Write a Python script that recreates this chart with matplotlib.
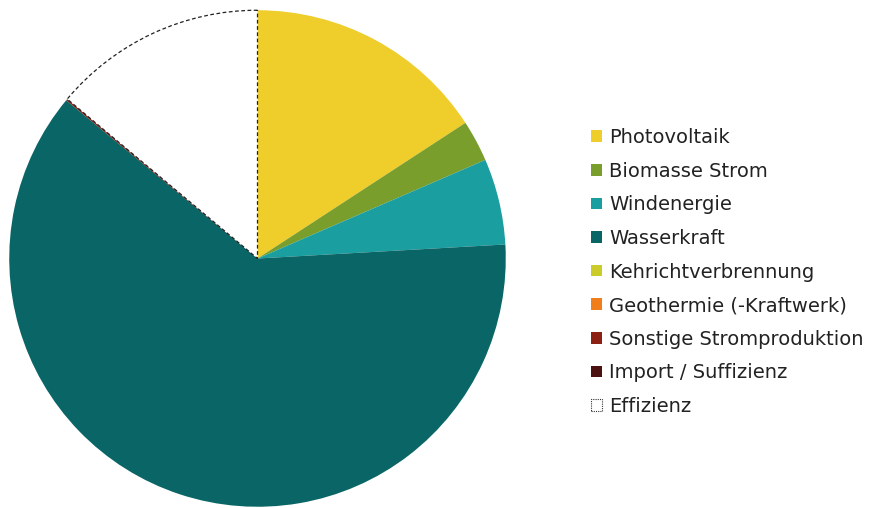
import matplotlib.pyplot as plt
from matplotlib.patches import Patch

plt.rcParams["font.family"] = ["DejaVu Sans"]

labels = [
    "Photovoltaik",
    "Biomasse Strom",
    "Windenergie",
    "Wasserkraft",
    "Kehrichtverbrennung",
    "Geothermie (-Kraftwerk)",
    "Sonstige Stromproduktion",
    "Import / Suffizienz",
    "Effizienz",
]
values = [15.8, 2.7, 5.6, 61.9, 0.0, 0.0, 0.1, 0.0, 13.9]
colors = ["#EFCD2A", "#7A9E2B", "#1A9EA0", "#0A6666", "#CBCB2A",
          "#F07E1A", "#8C2113", "#4B1211", "#FFFFFF"]

fig = plt.figure(figsize=(8.93, 5.08), dpi=100)
ax = fig.add_axes([8 / 893, 0, 499 / 893, 499 / 508])

wedges, _ = ax.pie(values, colors=colors, startangle=90, counterclock=False,
                   radius=1, wedgeprops=dict(linewidth=0))
eff = wedges[-1]
eff.set_edgecolor("#222222")
eff.set_linewidth(0.9)
eff.set_linestyle((0, (3, 2)))

ax.set_xlim(-1.005, 1.005)
ax.set_ylim(-1.005, 1.005)
ax.set_aspect("equal")
ax.axis("off")

handles = []
for lab, col in zip(labels, colors):
    if lab == "Effizienz":
        handles.append(Patch(facecolor="white", edgecolor="#333333",
                             linestyle=(0, (1, 1)), linewidth=0.8, label=lab))
    else:
        handles.append(Patch(facecolor=col, edgecolor="none", label=lab))

leg = fig.legend(handles=handles, loc="center left",
                 bbox_to_anchor=(591 / 893, 1 - 272 / 508),
                 frameon=False, fontsize=14, handlelength=0.55,
                 handleheight=0.55, handletextpad=0.4, labelspacing=0.75,
                 borderaxespad=0, borderpad=0, labelcolor="#222222")

fig.savefig("out.png", dpi=100)
